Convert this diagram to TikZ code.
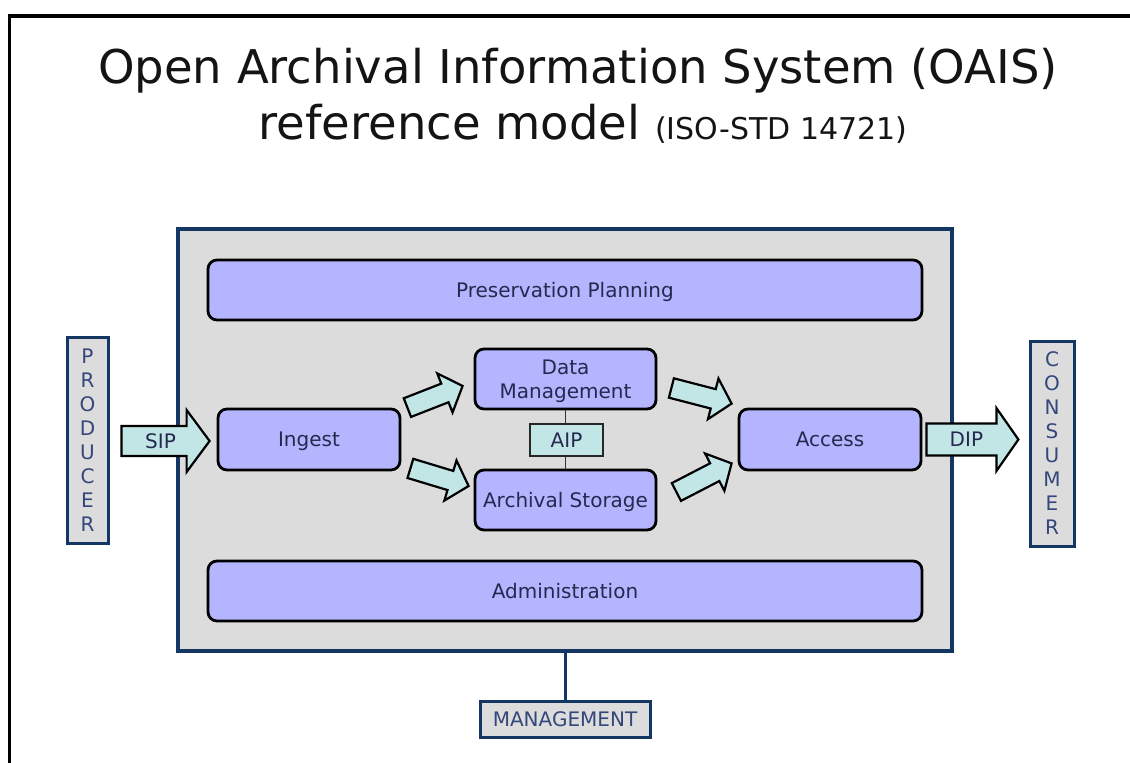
\documentclass[tikz,border=0pt]{standalone}
\usepackage{fontspec}
\setmainfont{DejaVu Sans}
\usetikzlibrary{calc}
\definecolor{lav}{HTML}{B4B4FF}
\definecolor{bggray}{HTML}{DCDCDC}
\definecolor{navy}{HTML}{143662}
\definecolor{aqua}{HTML}{C2E6E6}
\definecolor{boxtxt}{HTML}{25294F}
\definecolor{sidetxt}{HTML}{34477A}
\definecolor{titletxt}{HTML}{141414}
% #1 style, #2 tail, #3 tip, #4 shaft half width, #5 head half width, #6 head length
\newcommand\fatarrow[6]{%
  \coordinate (fa-h) at ($(#3)!#6!(#2)$);
  \draw[#1] ($(#2)!#4!90:(#3)$) -- ($(fa-h)!#4!90:(#3)$) -- ($(fa-h)!#5!90:(#3)$)
    -- (#3) -- ($(fa-h)!#5!-90:(#3)$) -- ($(fa-h)!#4!-90:(#3)$) -- ($(#2)!#4!-90:(#3)$) -- cycle;}
\begin{document}
\begin{tikzpicture}[x=1pt,y=-1pt,
  func/.style={draw=black, fill=lav, line width=2.8pt, rounded corners=9pt, text=boxtxt,
    font=\fontsize{20}{24}\selectfont, inner sep=0pt, align=center},
  oneline/.style={text height=14.5pt, text depth=0pt},
  side/.style={draw=navy, fill=bggray, line width=3pt, text=sidetxt,
    font=\fontsize{20}{24}\selectfont, inner sep=0pt, align=center},
  aipbox/.style={draw=black!85, fill=aqua, line width=2pt, text=boxtxt,
    font=\fontsize{20}{24}\selectfont, inner sep=0pt},
  fat/.style={draw=black, fill=aqua, line width=2.2pt, line join=miter},
  arrlabel/.style={text=boxtxt, font=\fontsize{20}{24}\selectfont, inner sep=0pt, text height=14.5pt, text depth=0pt}]
\useasboundingbox (0,0) rectangle (1130,763);
\fill[white] (0,0) rectangle (1130,763);
\draw[line width=3.5pt, black] (9.5,763) -- (9.5,16) -- (1130,16);

% title
\node[anchor=base, inner sep=0pt, text=titletxt, font=\fontsize{46.5}{50}\selectfont] (title) at (578,83)
  {Open Archival Information System (OAIS)};
\node[anchor=base, inner sep=0pt, text=titletxt] (subtitle) at (583,139)
  {\fontsize{46.5}{50}\selectfont reference model \fontsize{30}{32}\selectfont(ISO-STD 14721)};

% OAIS system box
\node[draw=navy, fill=bggray, line width=3.5pt, minimum width=774, minimum height=422, inner sep=0pt] (oais) at (565,440) {};

\node[func, oneline, minimum width=714, minimum height=60] (pp) at (565,290) {Preservation Planning};
\node[func, oneline, minimum width=714, minimum height=60] (admin) at (565,591) {Administration};
\node[func, oneline, minimum width=182, minimum height=61] (ingest) at (309,439.5) {Ingest};
\node[func, minimum width=181, minimum height=60] (dm) at (565.5,379) {\rule{0pt}{20pt}Data\\Management};
\node[func, oneline, minimum width=181, minimum height=60] (as) at (565.5,500) {Archival Storage};
\node[func, oneline, minimum width=182, minimum height=61] (access) at (830,439.5) {Access};

\draw[line width=1.8pt, black!80] (dm.south) -- (as.north);
\node[aipbox, oneline, minimum width=73, minimum height=32] (aip) at (566.5,440) {AIP};

% external entities
\node[side, minimum width=41, minimum height=206] (producer) at (87.5,440)
  {P\\R\\O\\D\\U\\C\\E\\R};
\node[side, minimum width=44, minimum height=205] (consumer) at (1052,443.5)
  {C\\O\\N\\S\\U\\M\\E\\R};
\node[side, oneline, minimum width=170, minimum height=36] (mgmt) at (565,719) {MANAGEMENT};
\draw[navy, line width=3pt] (oais.south) -- (mgmt.north);

% SIP / DIP
\coordinate (sipB) at ($(ingest.west)+(-7,1.5)$);
\coordinate (sipA) at ($(sipB -| producer.east)+(12,0)$);
\fatarrow{fat}{sipA}{sipB}{15pt}{31pt}{23pt}
\node[arrlabel] (siplabel) at ($(sipA)+(39,0)$) {SIP};

\coordinate (dipA) at ($(access.east)+(4,0)$);
\coordinate (dipB) at ($(dipA)+(92,0)$);
\fatarrow{fat}{dipA}{dipB}{16pt}{31.5pt}{22pt}
\node[arrlabel] (diplabel) at ($(dipA)+(40,0)$) {DIP};

% internal flows
\coordinate (f1a) at ($(ingest.north east)+(6,0)$);
\coordinate (f1b) at ($(dm.west)+(-11,7)$);
\fatarrow{fat}{f1a}{f1b}{10pt}{21pt}{19pt}
\coordinate (f2a) at ($(ingest.south east)+(9,-3)$);
\coordinate (f2b) at ($(as.west)+(-5,-14)$);
\fatarrow{fat}{f2a}{f2b}{10pt}{21pt}{19pt}
\coordinate (f3a) at ($(dm.east)+(14,9)$);
\coordinate (f3b) at ($(access.north west)+(-6,-4)$);
\fatarrow{fat}{f3a}{f3b}{10pt}{21pt}{19pt}
\coordinate (f4a) at ($(as.east)+(19,-8)$);
\coordinate (f4b) at ($(access.south west)+(-6,-8)$);
\fatarrow{fat}{f4a}{f4b}{10pt}{21pt}{19pt}
\end{tikzpicture}
\end{document}
